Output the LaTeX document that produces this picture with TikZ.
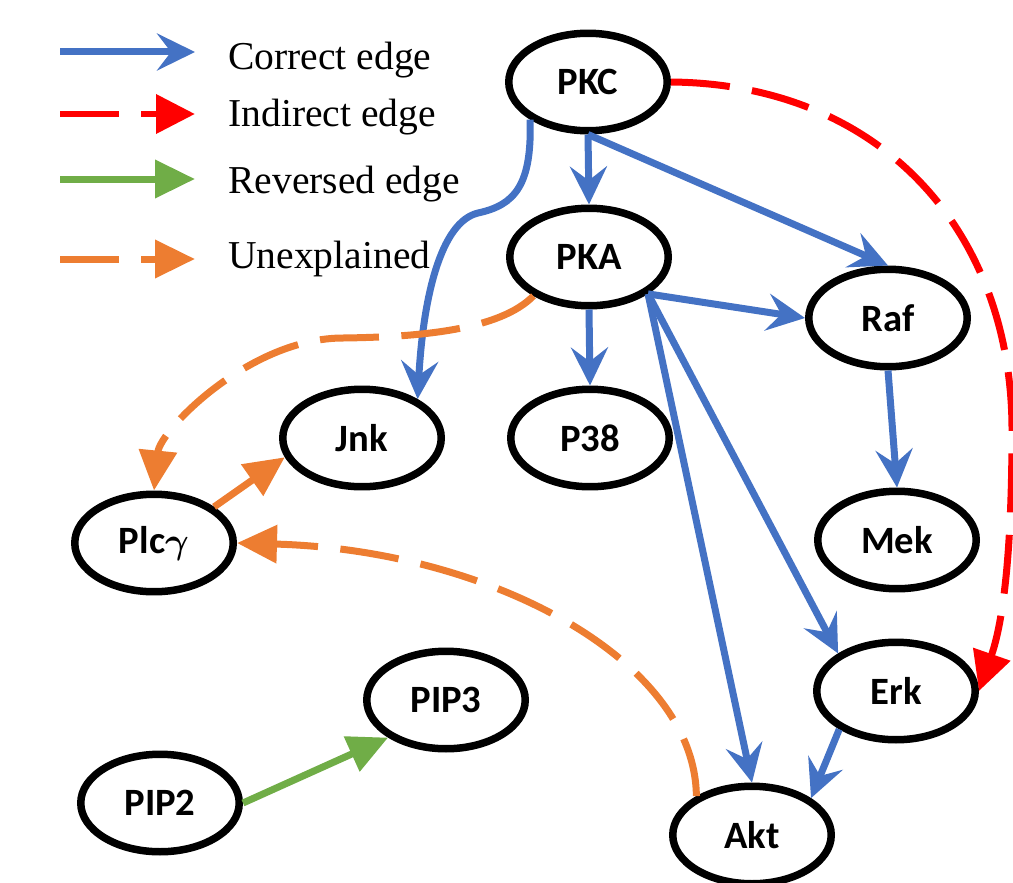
\documentclass[tikz,border=0pt]{standalone}
\usepackage{amsmath}
\usepackage{fontspec}
\setmainfont{Liberation Serif}
\newfontfamily\calibri{Carlito}
\usepackage{tikz}
\usetikzlibrary{arrows.meta,shapes.geometric}
\usepackage{xcolor}
\definecolor{edgeblue}{HTML}{4472C4}
\definecolor{edgered}{HTML}{FF0000}
\definecolor{edgegreen}{HTML}{70AD47}
\definecolor{edgeorange}{HTML}{ED7D31}

\begin{document}
\begin{tikzpicture}[x=0.02cm, y=-0.02cm,
  gene/.style={ellipse, draw=black, line width=0.15cm, minimum width=3.17cm, minimum height=1.95cm, inner sep=0pt, font=\calibri\bfseries\fontsize{22}{26}\selectfont},
  legtext/.style={anchor=base west, inner sep=0pt, font=\fontsize{22.5}{27}\selectfont},
  correctedge/.style={color=edgeblue, line width=0.14cm, -{Stealth[length=0.76cm, width=0.74cm, inset=0.28cm]}},
  indirectedge/.style={color=edgered, line width=0.14cm, dash pattern=on 1.18cm off 0.45cm, -{Triangle[length=0.78cm, width=0.76cm]}},
  revedge/.style={color=edgegreen, line width=0.14cm, -{Triangle[length=0.8cm, width=0.74cm]}},
  unexpedge/.style={color=edgeorange, line width=0.14cm, dash pattern=on 1.18cm off 0.45cm, -{Triangle[length=0.8cm, width=0.74cm]}}
]
\useasboundingbox (0,0) rectangle (1013,882);

% Legend
\coordinate (lc1) at (60,52);  \coordinate (lc2) at (195,52);
\coordinate (li1) at (60,114); \coordinate (li2) at (195,114);
\coordinate (lr1) at (60,179); \coordinate (lr2) at (195,179);
\coordinate (lu1) at (60,259); \coordinate (lu2) at (195,259);
\draw[correctedge] (lc1) -- (lc2);
\draw[indirectedge] (li1) -- (li2);
\draw[revedge] (lr1) -- (lr2);
\draw[unexpedge] (lu1) -- (lu2);
\node[legtext] (tc) at (228,70) {Correct edge};
\node[legtext] (ti) at (228,126) {Indirect edge};
\node[legtext] (tr) at (228,193) {Reversed edge};
\node[legtext] (tu) at (228,268) {Unexplained};

% Nodes
\node[gene] (PKC) at (588,82) {PKC};
\node[gene] (PKA) at (589,257) {PKA};
\node[gene] (Raf) at (888,318) {Raf};
\node[gene] (Jnk) at (362,438) {Jnk};
\node[gene] (P38) at (590,438) {P38};
\node[gene] (Plc) at (154,543) {Plc$\boldsymbol{\gamma}$};
\node[gene] (Mek) at (897,540) {Mek};
\node[gene] (Erk) at (896,691) {Erk};
\node[gene] (PIP3) at (446,700) {PIP3};
\node[gene] (PIP2) at (160,803) {PIP2};
\node[gene] (Akt) at (752,835) {Akt};

% Correct edges
\draw[correctedge] (PKC.south) -- (PKA.north);
\draw[correctedge] (PKC.south) -- (Raf.north);
\draw[correctedge] (PKC.-147) .. controls (532,185) and (515,205) .. (478,213)
  .. controls (440,222) and (423,300) .. (Jnk.35);
\draw[correctedge] (PKA.south) -- (P38.north);
\draw[correctedge] (PKA.-32) -- (Raf.west);
\draw[correctedge] (PKA.-32) -- (Erk.147);
\draw[correctedge] (PKA.-32) -- (Akt.north);
\draw[correctedge] (Raf.south) -- (Mek.north);
\draw[correctedge] (Erk.-146) -- (Akt.32);

% Indirect edge
\draw[indirectedge] (PKC.east) .. controls (880,84) and (1012,230) .. (1012,430)
  .. controls (1012,560) and (1002,625) .. (Erk.east);

% Reversed edge
\draw[revedge] (PIP2.east) -- (PIP3.-147);

% Unexplained edges
\draw[unexpedge] (PKA.-145) .. controls (500,330) and (420,337) .. (343,338)
  .. controls (250,338) and (160,430) .. (Plc.north);
\draw[unexpedge] (Plc.31) -- (Jnk.-166);
\draw[unexpedge] (Akt.145) .. controls (695,660) and (490,550) .. (Plc.east);
\end{tikzpicture}
\end{document}
